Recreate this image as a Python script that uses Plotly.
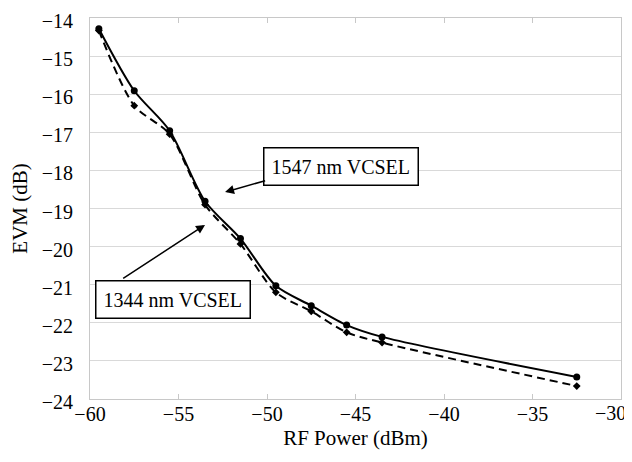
import plotly.graph_objects as go

# RF power sweep (dBm) and measured EVM (dB) for the two VCSELs
rf_power = [-59.5, -57.5, -55.5, -53.5, -51.5, -49.5, -47.5, -45.5, -43.5, -32.5]
evm_1547 = [-14.28, -15.91, -16.96, -18.81, -19.79, -21.03, -21.55, -22.06, -22.37, -23.42]
evm_1344 = [-14.33, -16.30, -17.05, -18.90, -19.93, -21.20, -21.70, -22.25, -22.52, -23.66]

x_ticks = [-60, -55, -50, -45, -40, -35]
x_last_label = "\u221230"   # -30 sits on the right edge, placed so it is not clipped
y_ticks = [-14, -15, -16, -17, -18, -19, -20, -21, -22, -23, -24]

FONT = "Liberation Serif, Times New Roman, serif"

fig = go.Figure()

fig.add_trace(go.Scatter(
    x=rf_power, y=evm_1344, mode="lines+markers", name="1344 nm VCSEL",
    line=dict(color="black", width=2, dash="8px,5px", shape="spline", smoothing=0.8),
    marker=dict(symbol="diamond", size=6, color="black"),
))
fig.add_trace(go.Scatter(
    x=rf_power, y=evm_1547, mode="lines+markers", name="1547 nm VCSEL",
    line=dict(color="black", width=2, shape="spline", smoothing=0.8),
    marker=dict(symbol="circle", size=7, color="black"),
))

# labels: text boxes and their arrows drawn separately
box = dict(showarrow=False, bordercolor="black", borderwidth=1.5, borderpad=7,
           bgcolor="white", font=dict(family=FONT, size=20, color="black"))
fig.add_annotation(x=-45.82, y=-17.90, text="1547 nm VCSEL", **box)
fig.add_annotation(x=-55.3, y=-21.39, text="1344 nm VCSEL", **box)

arrow = dict(text="", showarrow=True, arrowhead=2, arrowsize=1.2, arrowwidth=1.5,
             arrowcolor="black", axref="x", ayref="y")
fig.add_annotation(x=-52.37, y=-18.57, ax=-50.02, ay=-18.26, **arrow)
fig.add_annotation(x=-53.5, y=-19.43, ax=-58.21, ay=-20.86, **arrow)

fig.add_annotation(x=1, y=0, xref="paper", yref="paper", text=x_last_label,
                   showarrow=False, xanchor="right", yanchor="middle",
                   xshift=7, yshift=-14, font=dict(family=FONT, size=20, color="black"))

fig.update_layout(
    width=632, height=462,
    margin=dict(l=82, r=19, t=10, b=71),
    paper_bgcolor="white", plot_bgcolor="white",
    showlegend=False,
    font=dict(family=FONT, size=20, color="black"),
)
fig.update_xaxes(
    range=[-60, -30], tickvals=x_ticks, showgrid=False, automargin=False,
    showline=True, linecolor="#c8c8c8", linewidth=1, mirror="ticks",
    ticks="inside", ticklen=5, tickcolor="#c8c8c8", ticklabeloverflow="allow",
    tickfont=dict(size=20), zeroline=False, ticklabelstandoff=-3,
    title=dict(text="RF Power (dBm)", font=dict(size=21), standoff=6),
)
fig.update_yaxes(
    range=[-24, -14], tickvals=y_ticks, showgrid=True, gridcolor="#d9d9d9", gridwidth=1,
    showline=True, linecolor="#c8c8c8", linewidth=1, mirror=True, automargin=False,
    ticks="", tickfont=dict(size=20), zeroline=False, ticklabelstandoff=12,
    ticklabelshift=3, ticklabeloverflow="allow",
    title=dict(text="EVM (dB)", font=dict(size=21), standoff=10),
)

fig.write_html("out.html")
